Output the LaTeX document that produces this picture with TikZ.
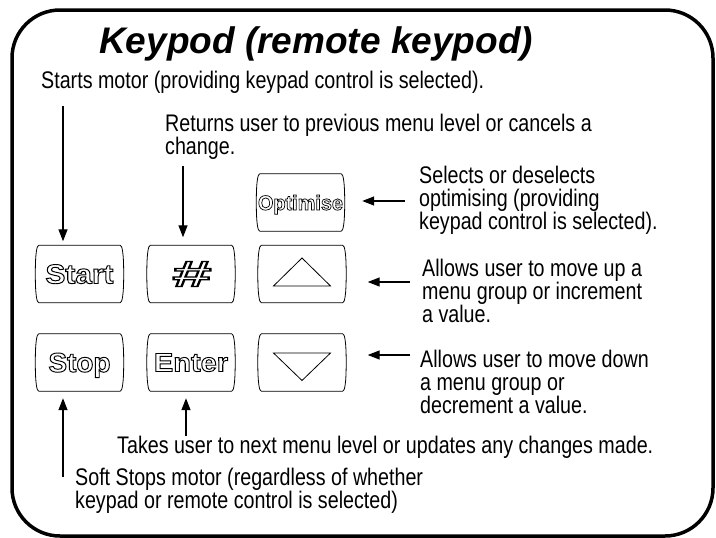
\documentclass[tikz,border=0pt]{standalone}
\usepackage{fontspec}
\usepackage{graphicx}
\setmainfont{Liberation Sans}[FakeStretch=0.82]
\newfontfamily\titlefont{Liberation Sans}
\newfontfamily\keyfont{Liberation Sans}
\usetikzlibrary{arrows.meta}
\newcommand\outl[3]{\resizebox{#1}{#2}{\special{pdf:literal 1 Tr 0.35 w}{\keyfont\bfseries #3}}}
\newcommand\fs{\rule{0pt}{18pt}}
\newcommand\keyshape[1]{%
 \draw[keyline] ([xshift=2pt]#1.north west) -- ([xshift=-2pt]#1.north east)
   .. controls (#1.north east) and ([xshift=1.5pt,yshift=-8pt]#1.north east) .. ([xshift=1.5pt]#1.east)
   .. controls ([xshift=1.5pt,yshift=8pt]#1.south east) and (#1.south east) .. ([xshift=-2pt]#1.south east)
   -- ([xshift=2pt]#1.south west)
   .. controls (#1.south west) and ([xshift=-1.5pt,yshift=8pt]#1.south west) .. ([xshift=-1.5pt]#1.west)
   .. controls ([xshift=-1.5pt,yshift=-8pt]#1.north west) and (#1.north west) .. cycle;}
\tikzset{
  keybox/.style={minimum width=85pt, minimum height=57pt, inner sep=0pt, text depth=0pt},
  keyline/.style={line width=0.8pt, black},
  arr/.style={line width=1.3pt, -{Triangle[length=12pt,width=9pt]}},
  body/.style={anchor=north west, inner sep=0pt, align=left, font=\fontsize{24pt}{23pt}\selectfont},
  frame/.style={line width=3.5pt, rounded corners=48pt}
}
\begin{document}
\begin{tikzpicture}[x=1pt,y=-1pt]
\useasboundingbox (0,0) rectangle (716,538);
\draw[frame] (12,10) rectangle (713,536);
\node[anchor=base west, inner sep=0pt, font=\titlefont\bfseries\itshape\fontsize{37pt}{40pt}\selectfont] (title) at (99,53) {Keypod (remote keypod)};

% keys
\node[keybox] (opt) at (300.5,202.5) {\outl{85pt}{15pt}{Optimise}};
\node[keybox] (start) at (79.5,274) {\outl{68pt}{19pt}{Start}};
\node[keybox] (hash) at (191,274) {\outl{39pt}{25pt}{\itshape\#}};
\node[keybox] (up) at (302,274) {};
\node[keybox] (stop) at (79.5,362.5) {\outl{62pt}{19pt}{Stop}};
\node[keybox] (enter) at (191,362.5) {\outl{74pt}{18pt}{Enter}};
\node[keybox] (down) at (302,362.5) {};
\keyshape{opt}\keyshape{start}\keyshape{hash}\keyshape{up}\keyshape{stop}\keyshape{enter}\keyshape{down}
\draw[keyline] ([yshift=16pt]up.center) -- ([xshift=28.5pt,yshift=-12pt]up.center) -- ([xshift=-28.5pt,yshift=-12pt]up.center) -- cycle;
\draw[keyline] ([yshift=-18pt]down.center) -- ([xshift=28.5pt,yshift=9.5pt]down.center) -- ([xshift=-28.5pt,yshift=9.5pt]down.center) -- cycle;

% texts
\node[body] (tstart) at (41,70) {\fs Starts motor (providing keypad control is selected).};
\node[body] (thash) at (165,113) {\fs Returns user to previous menu level or cancels a\\change.};
\node[body] (topt) at (419,165) {\fs Selects or deselects\\optimising (providing\\keypad control is selected).};
\node[body] (tup) at (422,258) {\fs Allows user to move up a\\menu group or increment\\a value.};
\node[body] (tdown) at (420,349) {\fs Allows user to move down\\a menu group or\\decrement a value.};
\node[body] (tenter) at (117,435) {\fs Takes user to next menu level or updates any changes made.};
\node[body] (tstop) at (75,467) {\fs Soft Stops motor (regardless of whether\\keypad or remote control is selected)};

% arrow tails
\coordinate (aS) at (63,106);
\coordinate (aH) at (183,166);
\coordinate (aO) at (405,201);
\coordinate (aU) at (410,282);
\coordinate (aD) at (410,355);
\coordinate (aE) at (186,436);
\coordinate (aT) at (63,477);

\draw[arr, shorten >=4pt] (aS) -- (aS |- start.north);
\draw[arr, shorten >=8pt] (aH) -- (aH |- hash.north);
\draw[arr, shorten >=19pt] (aO) -- (aO -| opt.east);
\draw[arr, shorten >=23pt] (aU) -- (aU -| up.east);
\draw[arr, shorten >=23pt] (aD) -- (aD -| down.east);
\draw[arr, shorten >=7pt] (aE) -- (aE |- enter.south);
\draw[arr, shorten >=7pt] (aT) -- (aT |- stop.south);
\end{tikzpicture}
\end{document}
